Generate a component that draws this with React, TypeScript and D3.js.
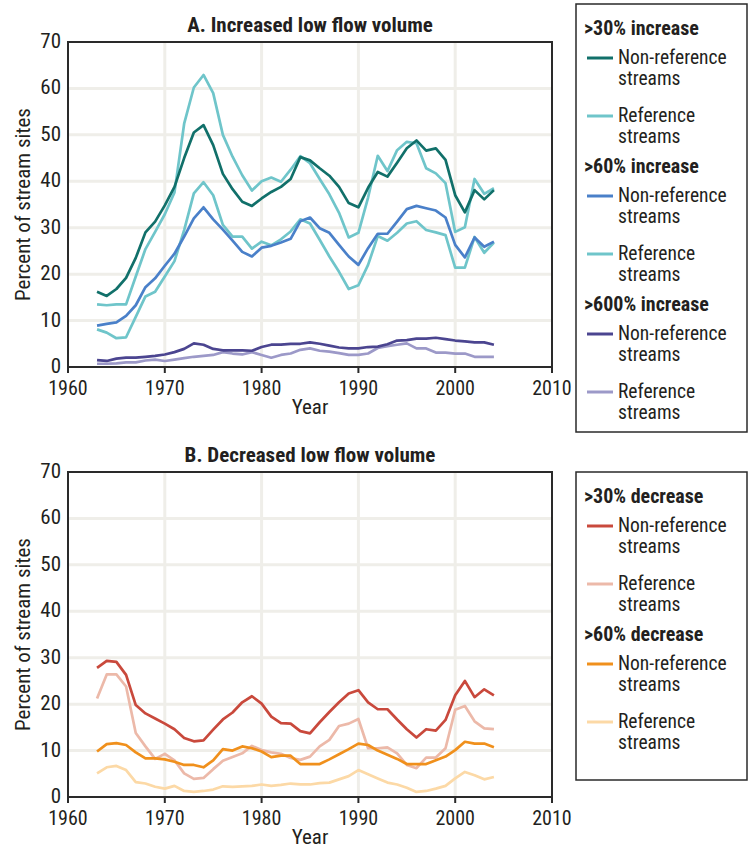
import React from "react";
import * as d3 from "d3";

const years = [1963,1964,1965,1966,1967,1968,1969,1970,1971,1972,1973,1974,1975,1976,1977,1978,1979,1980,1981,1982,1983,1984,1985,1986,1987,1988,1989,1990,1991,1992,1993,1994,1995,1996,1997,1998,1999,2000,2001,2002,2003,2004];

const incNonRef30 = [16.2,15.3,16.8,19.2,23.5,29,31.3,34.8,38.8,45,50.5,52.1,47.8,41.6,38.3,35.6,34.7,36.3,37.7,38.8,40.5,45.2,44.5,42.8,41.2,38.8,35.3,34.4,38.6,42,41,44,47.1,48.8,46.6,47.1,44.6,37,33.3,38.1,36.1,38.1];
const incRef30 = [13.5,13.3,13.5,13.5,19.5,25.4,29.1,32.9,37.6,52.4,60.2,62.9,59,50,45.3,41.3,38,40,40.8,39.9,42.5,45.4,43.9,40.5,37.2,33.2,27.9,28.9,36.5,45.5,42.2,46.7,48.5,48.2,42.8,41.7,39.6,29.1,30.1,40.5,37.3,38.5];
const incNonRef60 = [8.9,9.3,9.6,11,13.3,17.2,19.1,21.8,24.4,28.1,32,34.4,31.8,29.6,27.2,24.8,23.8,25.7,26.1,26.8,27.6,31.4,32.2,29.9,28.9,26.3,23.8,22,25.6,28.7,28.7,31.3,34,34.7,34.2,33.7,32.2,26.3,23.6,27.9,25.9,27];
const incRef60 = [8.1,7.4,6.2,6.4,10.8,15.2,16.2,19.5,22.8,29.5,37.4,39.8,37,30.6,28.1,28.1,25.5,27,26.2,27.5,29.2,31.8,30.9,27.4,23.8,20.5,16.8,17.6,22,28.2,27.2,28.9,30.9,31.4,29.5,29,28.4,21.4,21.4,28,24.6,26.8];
const incNonRef600 = [1.5,1.3,1.8,2.0,2.0,2.2,2.4,2.7,3.2,3.9,5.1,4.8,3.9,3.6,3.6,3.6,3.5,4.3,4.8,4.8,5.0,5.0,5.3,5.0,4.6,4.2,4.0,4.0,4.3,4.4,4.9,5.7,5.8,6.1,6.1,6.3,6.0,5.7,5.5,5.3,5.3,4.8];
const incRef600 = [0.7,0.7,0.8,1.0,1.0,1.4,1.6,1.3,1.6,1.9,2.2,2.4,2.6,3.2,2.9,2.7,3.2,2.6,2.0,2.6,2.9,3.7,4.0,3.5,3.3,3.0,2.6,2.6,2.9,4.1,4.5,4.8,5.1,4.0,4.0,3.1,3.1,2.9,2.9,2.2,2.2,2.2];

const decNonRef30 = [27.8,29.3,29.1,26.3,19.8,18,16.9,15.8,14.6,12.7,12,12.2,14.5,16.7,18.2,20.4,21.7,20.1,17.3,15.9,15.8,14.2,13.7,16.1,18.3,20.4,22.3,23,20.4,18.9,18.9,16.7,14.6,12.8,14.6,14.3,16.6,21.9,25,21.5,23.2,21.9];
const decRef30 = [21.2,26.4,26.4,23.8,13.8,10.9,8.2,9.3,7.9,5.1,3.9,4.1,6,7.8,8.6,9.4,11,10.1,9.6,9.3,8.4,8.0,8.7,10.9,12.3,15.3,15.8,16.8,10.5,10.5,10.7,9.4,6.9,6.2,8.5,8.5,10.5,18.8,19.6,16.3,14.8,14.6];
const decNonRef60 = [9.8,11.4,11.6,11.2,9.6,8.3,8.3,8.1,7.6,6.9,6.9,6.4,7.9,10.3,10,10.9,10.5,9.8,8.6,8.9,8.9,7.1,7.1,7.1,8.1,9.2,10.3,11.5,11.2,10,9.1,8.2,7.1,7.1,7.1,7.9,8.7,10.1,11.9,11.5,11.5,10.7];
const decRef60 = [5.1,6.4,6.7,5.8,3.2,2.9,2.2,1.8,2.4,1.3,1.1,1.3,1.6,2.3,2.2,2.3,2.4,2.7,2.4,2.6,2.9,2.7,2.7,3.0,3.1,3.8,4.5,5.8,4.9,4.0,3.1,2.7,2.0,1.1,1.3,1.8,2.4,4.0,5.4,4.7,3.8,4.3];

const yTicks = [0,10,20,30,40,50,60,70];
const xTicks = [1960,1970,1980,1990,2000,2010];

const seriesA = [
  { values: incRef600, color: "#9c99c8" },
  { values: incNonRef600, color: "#4b4590" },
  { values: incRef60, color: "#6fc5ca" },
  { values: incNonRef60, color: "#4a80c9" },
  { values: incRef30, color: "#6fc5ca" },
  { values: incNonRef30, color: "#11706a" },
];
const seriesB = [
  { values: decRef60, color: "#fcd9a6" },
  { values: decRef30, color: "#ecb9a9" },
  { values: decNonRef60, color: "#f0901c" },
  { values: decNonRef30, color: "#c9493c" },
];

const legendA = [
  { header: ">30% increase", items: [{ label: "Non-reference", color: "#11706a" }, { label: "Reference", color: "#6fc5ca" }] },
  { header: ">60% increase", items: [{ label: "Non-reference", color: "#4a80c9" }, { label: "Reference", color: "#6fc5ca" }] },
  { header: ">600% increase", items: [{ label: "Non-reference", color: "#4b4590" }, { label: "Reference", color: "#9c99c8" }] },
];
const legendB = [
  { header: ">30% decrease", items: [{ label: "Non-reference", color: "#c9493c" }, { label: "Reference", color: "#ecb9a9" }] },
  { header: ">60% decrease", items: [{ label: "Non-reference", color: "#f0901c" }, { label: "Reference", color: "#fcd9a6" }] },
];

const FONT = "'Liberation Sans Narrow', 'Arial Narrow', 'Roboto Condensed', sans-serif";
const TXT = "#231f20";

function Panel({ title, top, series }: { title: string; top: number; series: { values: number[]; color: string }[] }) {
  const left = 68, right = 552, bottom = top + 325;
  const x = d3.scaleLinear().domain([1960, 2010]).range([left, right]);
  const y = d3.scaleLinear().domain([0, 70]).range([bottom, top]);
  const line = d3.line<number>().x((_, i) => x(years[i])).y((v) => y(v));
  return (
    <g>
      <text x={310} y={top - 10} textAnchor="middle" fontFamily={FONT} fontWeight="bold" fontSize={21} fill={TXT}>{title}</text>
      {yTicks.filter((t) => t > 0 && t < 70).map((t) => (
        <line key={"gy" + t} x1={left} x2={right} y1={y(t)} y2={y(t)} stroke="#efeee9" strokeWidth={3} />
      ))}
      {xTicks.filter((t) => t > 1960 && t < 2010).map((t) => (
        <line key={"gx" + t} x1={x(t)} x2={x(t)} y1={top} y2={bottom} stroke="#efeee9" strokeWidth={3} />
      ))}
      {series.map((s, k) => (
        <path key={k} d={line(s.values) || ""} fill="none" stroke={s.color} strokeWidth={2.7} strokeLinejoin="round" />
      ))}
      <rect x={left} y={top} width={right - left} height={bottom - top} fill="none" stroke="#2a2a2a" strokeWidth={2} />
      {xTicks.map((t) => (
        <g key={"xt" + t}>
          <line x1={x(t)} x2={x(t)} y1={bottom} y2={bottom + 6} stroke="#2a2a2a" strokeWidth={2} />
          <text x={x(t)} y={bottom + 28} textAnchor="middle" fontFamily={FONT} fontSize={20} fill={TXT}>{t}</text>
        </g>
      ))}
      {yTicks.map((t) => (
        <text key={"yt" + t} x={61} y={y(t) + 6} textAnchor="end" fontFamily={FONT} fontSize={21} fill={TXT}>{t}</text>
      ))}
      <text transform={`translate(30,${(top + bottom) / 2}) rotate(-90)`} textAnchor="middle" fontFamily={FONT} fontSize={21} fill={TXT}>Percent of stream sites</text>
      <text x={310} y={bottom + 47} textAnchor="middle" fontFamily={FONT} fontSize={21} fill={TXT}>Year</text>
    </g>
  );
}

function Legend({ top, height, groups }: { top: number; height: number; groups: typeof legendA }) {
  const els: React.ReactNode[] = [];
  let h = top + 31;
  groups.forEach((g, gi) => {
    els.push(<text key={"h" + gi} x={584} y={h} fontFamily={FONT} fontWeight="bold" fontSize={20} fill={TXT}>{g.header}</text>);
    g.items.forEach((it, ii) => {
      const ly = h + 23 + ii * 58;
      els.push(<line key={"l" + gi + ii} x1={587} x2={613} y1={ly} y2={ly} stroke={it.color} strokeWidth={3} />);
      els.push(<text key={"t" + gi + ii} x={618} y={ly + 6} fontFamily={FONT} fontSize={19.5} fill={TXT}>{it.label}</text>);
      els.push(<text key={"s" + gi + ii} x={618} y={ly + 27} fontFamily={FONT} fontSize={19.5} fill={TXT}>streams</text>);
    });
    h += 138;
  });
  return (
    <g>
      <rect x={576} y={top} width={171} height={height} fill="none" stroke="#2a2a2a" strokeWidth={1.5} />
      {els}
    </g>
  );
}

export default function App() {
  return (
    <svg width={748} height={852} style={{ position: "absolute", left: 0, top: 0, background: "#fff" }}>
      <rect width={748} height={852} fill="#fff" />
      <Panel title="A. Increased low flow volume" top={42} series={seriesA} />
      <Panel title="B. Decreased low flow volume" top={472} series={seriesB} />
      <Legend top={4} height={428} groups={legendA} />
      <Legend top={472} height={308} groups={legendB} />
    </svg>
  );
}
